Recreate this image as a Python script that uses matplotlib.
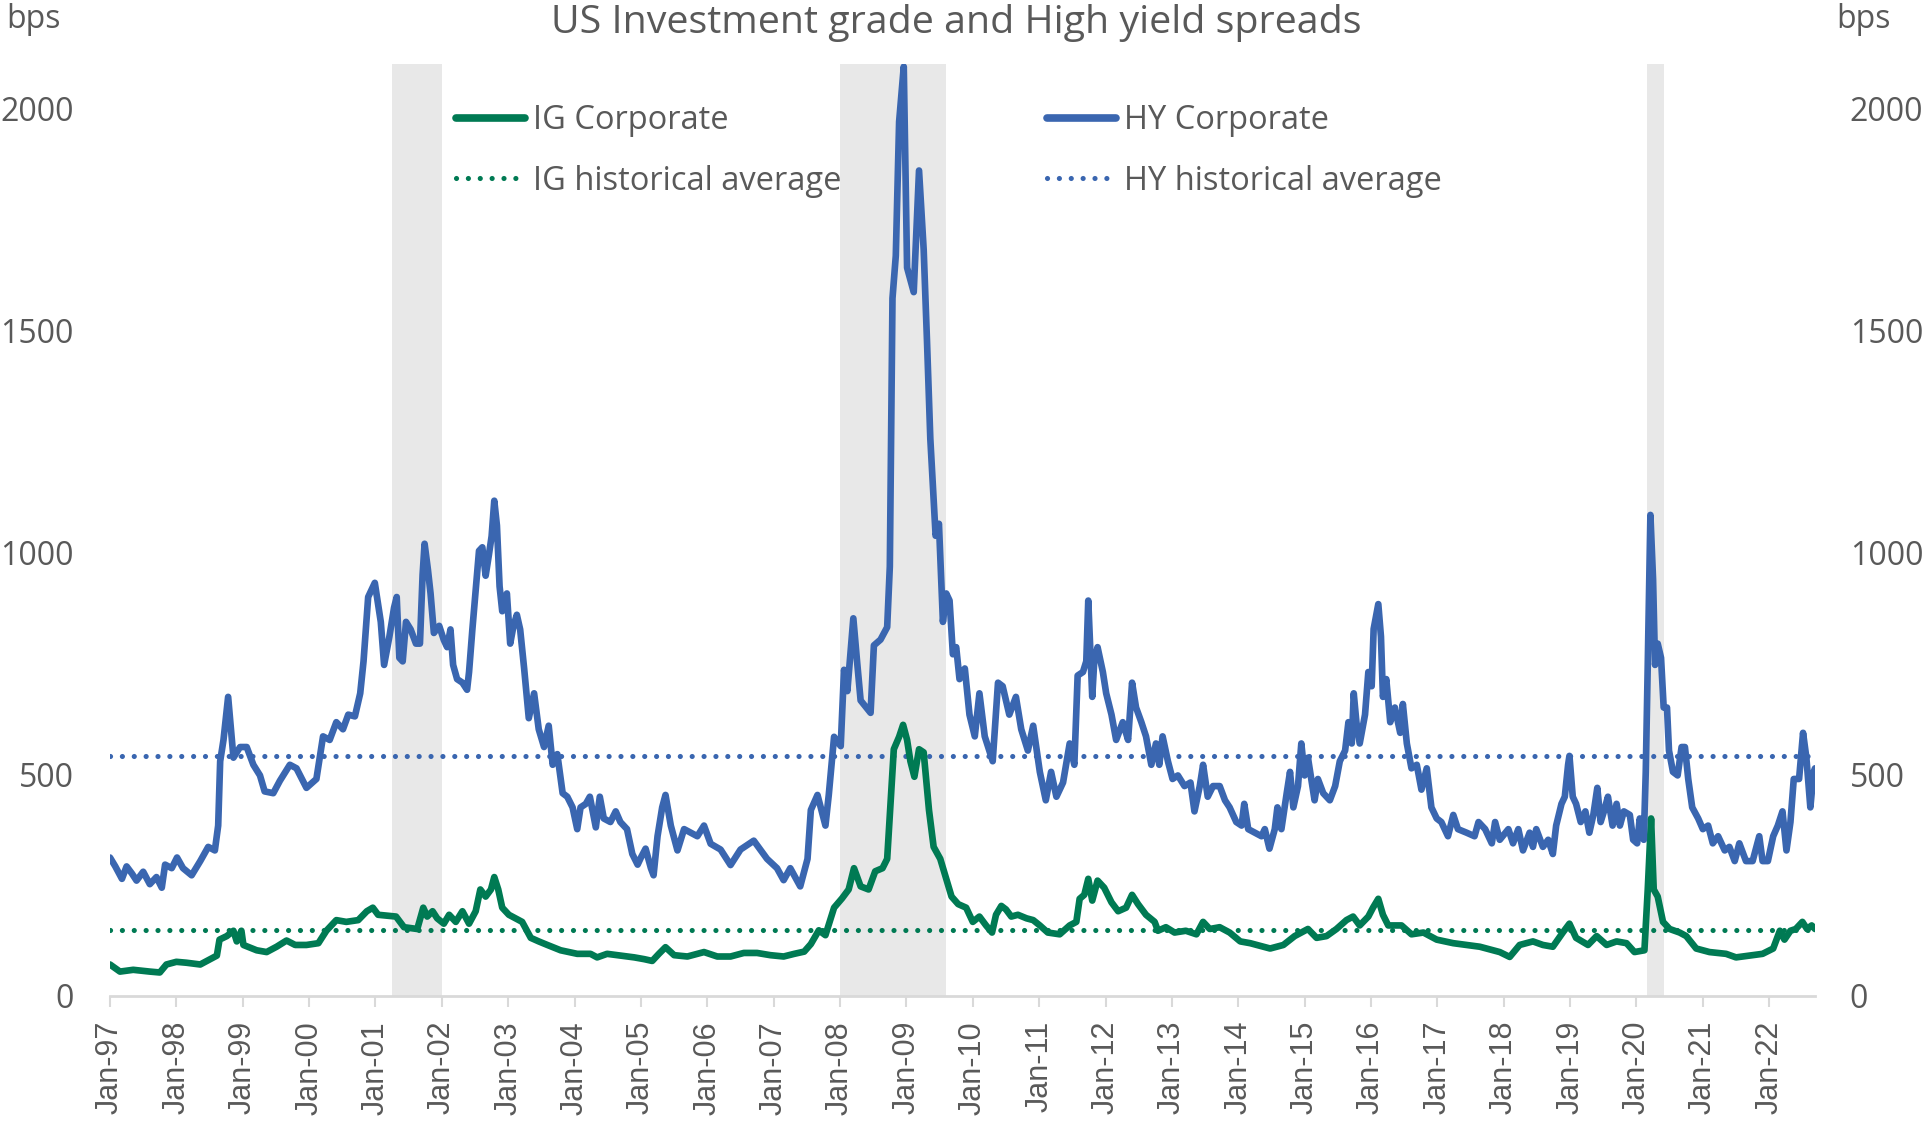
import matplotlib

matplotlib.use("Agg")

import matplotlib.pyplot as plt
from matplotlib.lines import Line2D

# ----------------------------------------------------------------------
# Data, x in decimal years
# ----------------------------------------------------------------------
hy_year = [
    1997.00, 1997.08, 1997.18, 1997.25, 1997.33, 1997.40, 1997.50, 1997.60, 1997.70, 1997.78,
    1997.83, 1997.93, 1998.01, 1998.10, 1998.23, 1998.36, 1998.48, 1998.58, 1998.63, 1998.66,
    1998.71, 1998.78, 1998.86, 1998.96, 1999.06, 1999.16, 1999.26, 1999.33, 1999.46, 1999.56,
    1999.71, 1999.81, 1999.96, 2000.11, 2000.21, 2000.31, 2000.41, 2000.51, 2000.59, 2000.69,
    2000.77, 2000.82, 2000.89, 2000.94, 2000.99,
    2001.08, 2001.13, 2001.21, 2001.28, 2001.32, 2001.36, 2001.41, 2001.46, 2001.53, 2001.61,
    2001.67, 2001.71, 2001.74, 2001.79, 2001.83, 2001.88, 2001.96, 2002.03, 2002.08, 2002.13,
    2002.17, 2002.23, 2002.31, 2002.38, 2002.41, 2002.46, 2002.51, 2002.56, 2002.61, 2002.66,
    2002.71, 2002.75, 2002.79, 2002.83, 2002.87, 2002.91, 2002.98, 2003.03, 2003.08, 2003.13,
    2003.18, 2003.24, 2003.31, 2003.39, 2003.46, 2003.54, 2003.61, 2003.67, 2003.74, 2003.82,
    2003.89, 2003.97, 2004.04, 2004.09, 2004.17, 2004.23, 2004.32, 2004.38, 2004.44, 2004.54,
    2004.62, 2004.69, 2004.79, 2004.87, 2004.95, 2005.00, 2005.07, 2005.15, 2005.19, 2005.25,
    2005.32, 2005.37, 2005.45, 2005.55, 2005.65, 2005.75, 2005.85,
    2005.95, 2006.05, 2006.20, 2006.35, 2006.50, 2006.70, 2006.90, 2007.05, 2007.15, 2007.25,
    2007.40, 2007.51, 2007.56, 2007.66, 2007.78, 2007.83, 2007.91, 2008.01, 2008.06, 2008.11,
    2008.20, 2008.26, 2008.31, 2008.46, 2008.51, 2008.61, 2008.71, 2008.75, 2008.79, 2008.84,
    2008.89, 2008.96, 2009.01, 2009.11, 2009.19, 2009.26, 2009.31, 2009.36, 2009.44, 2009.49,
    2009.55, 2009.60, 2009.65, 2009.70, 2009.75, 2009.80, 2009.88, 2009.95, 2010.03, 2010.10,
    2010.18, 2010.30, 2010.38, 2010.45, 2010.55, 2010.65, 2010.73, 2010.83, 2010.91, 2011.01,
    2011.10, 2011.18, 2011.26, 2011.36, 2011.46, 2011.53, 2011.58, 2011.66, 2011.71, 2011.74,
    2011.80, 2011.83, 2011.88, 2011.96, 2012.01, 2012.09, 2012.16, 2012.26, 2012.34, 2012.40,
    2012.46, 2012.54, 2012.61, 2012.69, 2012.76, 2012.81, 2012.86, 2012.94, 2013.01, 2013.09,
    2013.19, 2013.28, 2013.34, 2013.42, 2013.47, 2013.54, 2013.62,
    2013.72, 2013.80, 2013.87, 2013.97, 2014.05, 2014.09, 2014.15, 2014.25, 2014.35, 2014.40,
    2014.47, 2014.55, 2014.59, 2014.65, 2014.73, 2014.78, 2014.83, 2014.90, 2014.95, 2015.00,
    2015.05, 2015.15, 2015.20, 2015.28, 2015.38, 2015.46, 2015.53, 2015.61, 2015.66, 2015.71,
    2015.74, 2015.78, 2015.83, 2015.91, 2015.96, 2016.01, 2016.04, 2016.11, 2016.15, 2016.18,
    2016.23, 2016.29, 2016.36, 2016.44, 2016.48, 2016.54, 2016.61, 2016.69, 2016.76, 2016.84,
    2016.91, 2016.99, 2017.06, 2017.16, 2017.24, 2017.31, 2017.44, 2017.56, 2017.62, 2017.72,
    2017.82, 2017.87, 2017.94,
    2018.07, 2018.14, 2018.22, 2018.29, 2018.39, 2018.44, 2018.49, 2018.59, 2018.67, 2018.74,
    2018.79, 2018.87, 2018.92, 2018.97, 2018.99, 2019.04, 2019.09, 2019.16, 2019.23, 2019.29,
    2019.35, 2019.41, 2019.46, 2019.51, 2019.57, 2019.64, 2019.70, 2019.75, 2019.81, 2019.90,
    2019.95, 2020.01, 2020.05, 2020.11, 2020.14, 2020.17, 2020.21, 2020.25, 2020.28, 2020.32,
    2020.37, 2020.41, 2020.46, 2020.49, 2020.55, 2020.62, 2020.68, 2020.73, 2020.78, 2020.84,
    2020.93, 2021.00, 2021.08, 2021.15, 2021.23, 2021.33, 2021.40, 2021.48, 2021.55, 2021.65,
    2021.75, 2021.85, 2021.90, 2021.98, 2022.06, 2022.13, 2022.20, 2022.26, 2022.32, 2022.37,
    2022.45, 2022.51, 2022.56, 2022.62, 2022.67, 2022.69,
]
hy_bps = [
    312, 292, 264, 292, 276, 260, 280, 252, 268, 244,
    296, 288, 312, 288, 272, 304, 336, 328, 384, 529,
    577, 674, 537, 561, 561, 521, 497, 461, 457, 485,
    521, 513, 469, 489, 585, 577, 617, 601, 634, 630,
    682, 754, 899, 915, 931,
    843, 746, 810, 875, 899, 762, 754, 843, 826, 794,
    794, 949, 1019, 961, 907, 818, 834, 802, 786, 826,
    746, 714, 706, 690, 730, 826, 915, 1003, 1011, 947,
    995, 1036, 1116, 1060, 923, 867, 907, 794, 834, 859,
    826, 738, 626, 682, 601, 561, 609, 521, 545, 457,
    449, 425, 376, 425, 433, 449, 380, 449, 400, 392,
    416, 392, 376, 320, 296, 312, 332, 288, 272, 360,
    425, 453, 384, 328, 376, 368, 360,
    384, 343, 330, 295, 330, 350, 309, 288, 261, 288,
    247, 309, 419, 453, 384, 453, 584, 563, 735, 687,
    851, 748, 666, 638, 790, 803, 831, 968, 1572, 1668,
    1970, 2094, 1641, 1586, 1860, 1682, 1476, 1256, 1037, 1064,
    843, 907, 891, 770, 786, 714, 738, 634, 585, 682,
    585, 529, 706, 698, 634, 674, 601, 553, 609, 505,
    441, 505, 449, 481, 569, 521, 722, 730, 754, 891,
    674, 754, 786, 730, 682, 634, 577, 617, 577, 706,
    650, 617, 585, 521, 569, 521, 585, 529, 489, 497,
    473, 481, 416, 473, 521, 449, 473,
    473, 441, 425, 392, 384, 433, 376, 368, 360, 376,
    332, 376, 425, 376, 457, 505, 425, 473, 569, 497,
    537, 441, 489, 457, 441, 473, 529, 553, 617, 569,
    682, 617, 569, 634, 730, 698, 827, 883, 810, 674,
    714, 617, 650, 593, 658, 569, 513, 521, 465, 513,
    425, 400, 392, 360, 408, 376, 368, 360, 392, 376,
    344, 392, 352,
    376, 344, 376, 328, 368, 336, 376, 336, 352, 320,
    384, 433, 449, 521, 541, 449, 433, 392, 416, 368,
    408, 469, 392, 416, 449, 384, 433, 384, 416, 408,
    352, 344, 400, 352, 505, 746, 1084, 939, 746, 794,
    762, 650, 650, 553, 505, 497, 561, 561, 489, 425,
    400, 376, 384, 344, 360, 328, 336, 304, 344, 304,
    304, 360, 304, 304, 360, 384, 416, 328, 392, 489,
    489, 593, 537, 425, 505, 513,
]

ig_year = [
    1997.00, 1997.15, 1997.35, 1997.60, 1997.75, 1997.85, 1998.00, 1998.15, 1998.36, 1998.51,
    1998.61, 1998.65, 1998.76, 1998.86, 1998.91, 1998.98, 1999.01, 1999.21, 1999.36, 1999.51,
    1999.66, 1999.79, 1999.96, 2000.14, 2000.26, 2000.41, 2000.56, 2000.74, 2000.87, 2000.96,
    2001.04,
    2001.31, 2001.43, 2001.63, 2001.72, 2001.78, 2001.86, 2001.93, 2002.03, 2002.11, 2002.21,
    2002.31, 2002.41, 2002.51, 2002.58, 2002.66, 2002.74, 2002.79, 2002.85, 2002.91, 2003.01,
    2003.11, 2003.21, 2003.34, 2003.46, 2003.59, 2003.79, 2004.04, 2004.24, 2004.34, 2004.49,
    2004.69, 2004.90, 2005.05, 2005.17, 2005.27,
    2005.37, 2005.50, 2005.70, 2005.95, 2006.15, 2006.35, 2006.55, 2006.75, 2006.95, 2007.15,
    2007.31, 2007.46, 2007.56, 2007.68, 2007.78, 2007.91, 2008.03, 2008.13, 2008.21, 2008.31,
    2008.43, 2008.53, 2008.64, 2008.71, 2008.76, 2008.81, 2008.89, 2008.95, 2009.01, 2009.06,
    2009.12, 2009.19, 2009.26, 2009.34, 2009.41, 2009.51,
    2009.68, 2009.78, 2009.90, 2010.00, 2010.10, 2010.20, 2010.29, 2010.35, 2010.43, 2010.50,
    2010.58, 2010.68, 2010.81, 2010.91, 2011.01, 2011.13, 2011.31, 2011.46, 2011.56, 2011.61,
    2011.68, 2011.74, 2011.80, 2011.88, 2011.98, 2012.09, 2012.19, 2012.31, 2012.40, 2012.49,
    2012.61, 2012.74, 2012.79, 2012.91, 2013.04, 2013.21, 2013.37, 2013.47, 2013.57,
    2013.72, 2013.87, 2014.03, 2014.18, 2014.33, 2014.48, 2014.68, 2014.85, 2015.05, 2015.18,
    2015.33, 2015.48, 2015.63, 2015.73, 2015.83, 2015.96, 2016.03, 2016.11, 2016.18, 2016.26,
    2016.46, 2016.61, 2016.79, 2016.99, 2017.24, 2017.44, 2017.64, 2017.84,
    2017.94, 2018.09, 2018.24, 2018.44, 2018.59, 2018.74, 2018.89, 2018.99, 2019.09, 2019.27,
    2019.40, 2019.55, 2019.70, 2019.85, 2019.97, 2020.12, 2020.17, 2020.22, 2020.26, 2020.32,
    2020.40, 2020.50, 2020.65, 2020.75, 2020.90, 2021.10, 2021.35, 2021.50, 2021.70, 2021.90,
    2022.06, 2022.16, 2022.23, 2022.32, 2022.40, 2022.50, 2022.57, 2022.64, 2022.69,
]
ig_bps = [
    71, 55, 59, 55, 53, 71, 77, 75, 71, 83,
    91, 127, 135, 147, 123, 147, 115, 103, 99, 111,
    125, 115, 115, 119, 147, 171, 167, 171, 191, 199,
    183,
    179, 155, 151, 199, 179, 191, 175, 163, 183, 167,
    191, 163, 191, 240, 224, 240, 268, 240, 199, 183,
    175, 167, 131, 123, 115, 103, 95, 95, 87, 95,
    91, 87, 83, 79, 95,
    110, 92, 89, 99, 89, 89, 97, 97, 92, 89,
    95, 100, 117, 148, 137, 199, 220, 240, 288, 247,
    240, 281, 288, 309, 432, 556, 584, 611, 577, 529,
    494, 556, 549, 419, 336, 309,
    224, 207, 199, 167, 179, 159, 143, 183, 203, 195,
    179, 183, 175, 171, 159, 143, 139, 159, 167, 219,
    228, 264, 215, 260, 244, 211, 191, 199, 228, 207,
    183, 167, 147, 155, 143, 147, 139, 167, 151,
    155, 143, 123, 119, 113, 107, 115, 135, 151, 131,
    135, 151, 171, 179, 159, 179, 199, 219, 183, 159,
    159, 139, 143, 127, 119, 115, 111, 103,
    99, 88, 115, 123, 115, 111, 143, 163, 131, 115,
    135, 115, 123, 119, 99, 103, 240, 400, 240, 224,
    167, 151, 143, 135, 107, 99, 95, 87, 91, 95,
    107, 147, 127, 147, 151, 167, 151, 159, 151,
]

hy_avg = 540
ig_avg = 149

# recession shading (decimal years)
rec_start = [2001.25, 2008.00, 2020.16]
rec_end = [2002.00, 2009.59, 2020.41]

years = list(range(1997, 2023))
year_labels = [f"Jan-{y % 100:02d}" for y in years]
y_ticks = [0, 500, 1000, 1500, 2000]

# ----------------------------------------------------------------------
# Style
# ----------------------------------------------------------------------
IG_COLOR = "#007a53"
HY_COLOR = "#3a66b0"
TEXT_COLOR = "#595959"
AXIS_COLOR = "#d9d9d9"
MAIN_FONT = ["Open Sans", "DejaVu Sans"]
DATE_FONT = ["Liberation Sans", "DejaVu Sans"]

W, H = 1923, 1126
fig = plt.figure(figsize=(W / 100, H / 100), dpi=100)
ax = fig.add_axes([110 / W, 1 - 996 / H, (1815 - 110) / W, (996 - 64) / H])

for s, e in zip(rec_start, rec_end):
    ax.axvspan(s, e, color="#e8e8e8", lw=0, zorder=0)

dots = (0, (0.01, 2.3))
ax.axhline(ig_avg, color=IG_COLOR, lw=3.7, ls=dots, dash_capstyle="round", zorder=2)
ax.axhline(hy_avg, color=HY_COLOR, lw=3.7, ls=dots, dash_capstyle="round", zorder=2)
ax.plot(ig_year, ig_bps, color=IG_COLOR, lw=4.8, solid_joinstyle="round",
        solid_capstyle="round", zorder=3)
ax.plot(hy_year, hy_bps, color=HY_COLOR, lw=4.8, solid_joinstyle="round",
        solid_capstyle="round", zorder=3)

ax.set_xlim(1997.0, 2022.69)
ax.set_ylim(0, 2100)

for side in ["left", "right", "top"]:
    ax.spines[side].set_visible(False)
ax.spines["bottom"].set_color(AXIS_COLOR)
ax.spines["bottom"].set_linewidth(2)

ax.set_xticks(years)
ax.set_xticklabels(year_labels, rotation=90, family=DATE_FONT, fontsize=22, color=TEXT_COLOR)
ax.tick_params(axis="x", length=8, width=1.5, color=AXIS_COLOR, pad=10)

ax.set_yticks(y_ticks)
ax.set_yticklabels([str(v) for v in y_ticks], family=MAIN_FONT, fontsize=23, color=TEXT_COLOR)
ax.tick_params(axis="y", length=0, pad=26)

ax2 = ax.twinx()
ax2.set_ylim(ax.get_ylim())
ax2.set_yticks(y_ticks)
ax2.set_yticklabels([str(v) for v in y_ticks], family=MAIN_FONT, fontsize=23, color=TEXT_COLOR)
ax2.tick_params(axis="y", length=0, pad=25)
for side in ["left", "right", "top", "bottom"]:
    ax2.spines[side].set_visible(False)

fig.text(956 / W, 1 - 23 / H, "US Investment grade and High yield spreads",
         ha="center", va="center", family=MAIN_FONT, fontsize=28.4, color=TEXT_COLOR)
fig.text(6 / W, 1 - 20 / H, "bps", ha="left", va="center",
         family=MAIN_FONT, fontsize=23, color=TEXT_COLOR)
fig.text(1836 / W, 1 - 20 / H, "bps", ha="left", va="center",
         family=MAIN_FONT, fontsize=23, color=TEXT_COLOR)


# legends
def make_handles(color):
    return [
        Line2D([], [], color=color, lw=5.5, solid_capstyle="round"),
        Line2D([], [], color=color, lw=3.7, ls=dots, dash_capstyle="round"),
    ]


leg_kw = dict(
    frameon=False, loc="upper left", borderpad=0, borderaxespad=0,
    handlelength=2.1, handletextpad=0.25, labelspacing=0.85,
    prop={"family": MAIN_FONT, "size": 23.5}, labelcolor=TEXT_COLOR,
)
leg1 = fig.legend(make_handles(IG_COLOR), ["IG Corporate", "IG historical average"],
                  bbox_to_anchor=(456 / W, 1 - 104 / H), **leg_kw)
leg2 = fig.legend(make_handles(HY_COLOR), ["HY Corporate", "HY historical average"],
                  bbox_to_anchor=(1047 / W, 1 - 104 / H), **leg_kw)

fig.savefig("out.png", dpi=100)
